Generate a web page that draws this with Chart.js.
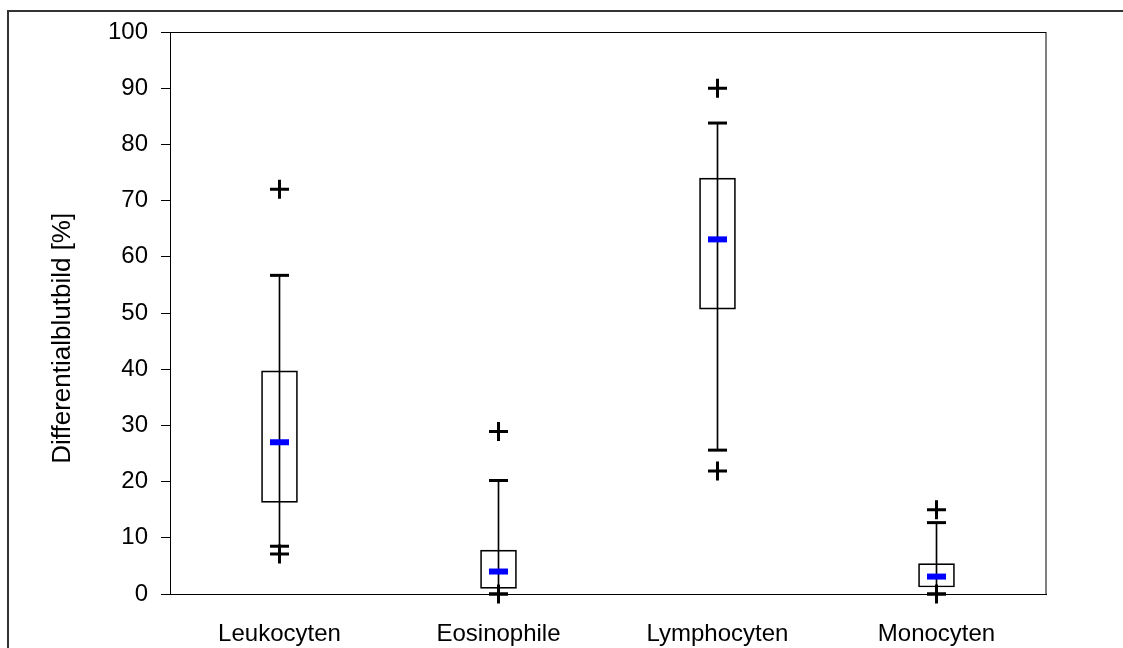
<!DOCTYPE html>
<html>
<head>
<meta charset="utf-8">
<script src="https://cdn.jsdelivr.net/npm/chart.js@4.4.1/dist/chart.umd.min.js"></script>
<style>
  html, body { margin: 0; padding: 0; background: #fff; }
  #wrap { width: 1123px; height: 648px; position: relative; }
</style>
</head>
<body>
<div id="wrap"><canvas id="c" width="1123" height="648"></canvas></div>
<script>
const categories = ['Leukocyten', 'Eosinophile', 'Lymphocyten', 'Monocyten'];
const q1 = [16.3, 1.0, 50.7, 1.25];
const q3 = [39.7, 7.8, 74.0, 5.4];
const medians = [27.0, 4.0, 63.1, 3.1];
const whiskerLow = [8.5, 0, 25.6, 0];
const whiskerHigh = [56.7, 20.2, 83.8, 12.7];
const outlierHigh = [72.0, 28.9, 90.0, 15.0];
const outlierLow = [7.1, 0, 21.9, 0];
const yTicks = [0, 10, 20, 30, 40, 50, 60, 70, 80, 90, 100];
const yTitle = 'Differentialblutbild [%]';

const FONT = "'Liberation Sans', Arial, sans-serif";

const framePlugin = {
  id: 'frame',
  beforeDraw(chart) {
    const ctx = chart.ctx;
    ctx.save();
    ctx.strokeStyle = '#333';
    ctx.lineWidth = 2;
    ctx.beginPath();
    ctx.moveTo(8, 700);
    ctx.lineTo(8, 11);
    ctx.lineTo(1200, 11);
    ctx.stroke();
    ctx.restore();
  },
  afterDraw(chart) {
    const {ctx, chartArea: a} = chart;
    ctx.save();
    ctx.strokeStyle = '#000';
    ctx.lineWidth = 1;
    ctx.strokeRect(Math.round(a.left) + 0.5, Math.round(a.top) + 0.5,
                   Math.round(a.right - a.left) - 0.5, Math.round(a.bottom - a.top));
    const yScale = chart.scales.y;
    ctx.translate(63, yScale.getPixelForValue(45.5));
    ctx.rotate(-Math.PI / 2);
    ctx.fillStyle = '#000';
    ctx.font = '26px ' + FONT;
    ctx.textAlign = 'center';
    ctx.textBaseline = 'middle';
    ctx.fillText(yTitle, 0, 0);
    ctx.restore();
  }
};

const pointDs = (label, data, style, radius, width, color) => ({
  type: 'line',
  label,
  data: data.map((v, i) => ({x: categories[i], y: v})),
  showLine: false,
  pointStyle: style,
  pointRadius: radius,
  pointHoverRadius: radius,
  pointBorderWidth: width,
  pointBorderColor: color,
  pointBackgroundColor: color,
  borderColor: color,
  clip: false
});

new Chart(document.getElementById('c'), {
  data: {
    labels: categories,
    datasets: [
      {
        type: 'bar',
        label: 'whisker',
        data: categories.map((c, i) => [whiskerLow[i], whiskerHigh[i]]),
        backgroundColor: '#000',
        borderWidth: 0,
        barThickness: 1,
        grouped: false,
        order: 5
      },
      {
        type: 'bar',
        label: 'box',
        data: categories.map((c, i) => [q1[i], q3[i]]),
        backgroundColor: 'rgba(0,0,0,0)',
        borderColor: '#000',
        borderWidth: 1,
        borderSkipped: false,
        barThickness: 36,
        grouped: false,
        order: 4
      },
      Object.assign(pointDs('capHigh', whiskerHigh, 'line', 9.5, 3, '#000'), {order: 3}),
      Object.assign(pointDs('capLow', whiskerLow, 'line', 9.5, 3, '#000'), {order: 3}),
      Object.assign(pointDs('median', medians, 'line', 9.5, 6, '#0000ff'), {order: 2}),
      Object.assign(pointDs('outHigh', outlierHigh, 'cross', 9.5, 3, '#000'), {order: 1}),
      Object.assign(pointDs('outLow', outlierLow, 'cross', 9.5, 3, '#000'), {order: 1})
    ]
  },
  options: {
    responsive: false,
    devicePixelRatio: 1,
    animation: false,
    layout: { padding: { left: 0, top: 32, right: 77, bottom: 0 } },
    plugins: { legend: { display: false }, tooltip: { enabled: false } },
    scales: {
      x: {
        type: 'category',
        offset: true,
        grid: { display: false, drawTicks: false },
        border: { display: true, color: '#000', width: 1 },
        ticks: { color: '#000', font: { family: FONT, size: 24 }, padding: 26, maxRotation: 0 },
        afterFit(s) { s.height = 54; }
      },
      y: {
        min: 0,
        max: 100,
        afterBuildTicks(s) { s.ticks = yTicks.map(v => ({value: v})); },
        grid: { drawOnChartArea: false, drawTicks: true, tickLength: 9, color: '#000', tickWidth: 1 },
        border: { display: true, color: '#000', width: 1 },
        ticks: { color: '#000', font: { family: FONT, size: 24 }, padding: 13 },
        afterFit(s) { s.width = 170; }
      }
    }
  },
  plugins: [framePlugin]
});
</script>
</body>
</html>
